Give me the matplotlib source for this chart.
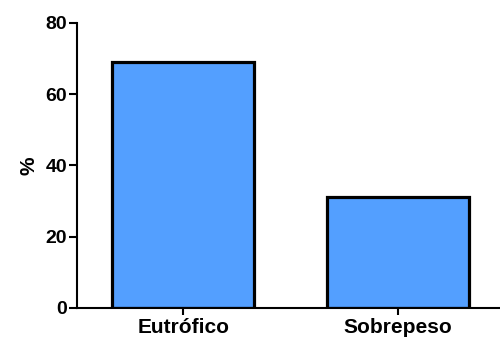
import matplotlib.pyplot as plt

# dados
categorias = ['Eutrófico', 'Sobrepeso']
valores = [69, 31]
yticks = [0, 20, 40, 60, 80]

plt.rcParams['font.family'] = ['Liberation Sans', 'DejaVu Sans']
plt.rcParams['font.weight'] = 'bold'

fig = plt.figure(figsize=(5, 3.41), dpi=100)
ax = fig.add_axes([0.154, 0.097, 0.846, 0.836])

ax.bar(range(len(categorias)), valores, width=0.66, color='#539FFF',
       edgecolor='black', linewidth=2.3, zorder=2)

ax.set_xlim(-0.494, 1.475)
ax.set_ylim(0, 80)
ax.set_yticks(yticks)
ax.set_xticks(range(len(categorias)))
ax.set_xticklabels(categorias)
ax.set_ylabel('%', fontsize=15, fontweight='bold', labelpad=5)

for s in ['top', 'right']:
    ax.spines[s].set_visible(False)
for s in ['left', 'bottom']:
    ax.spines[s].set_linewidth(1.5)
    ax.spines[s].set_zorder(3)

ax.tick_params(axis='y', length=6, width=1.5, labelsize=14, pad=1)
ax.tick_params(axis='x', length=5, width=1.5, labelsize=15, pad=2)

fig.savefig('out.png', dpi=100)
